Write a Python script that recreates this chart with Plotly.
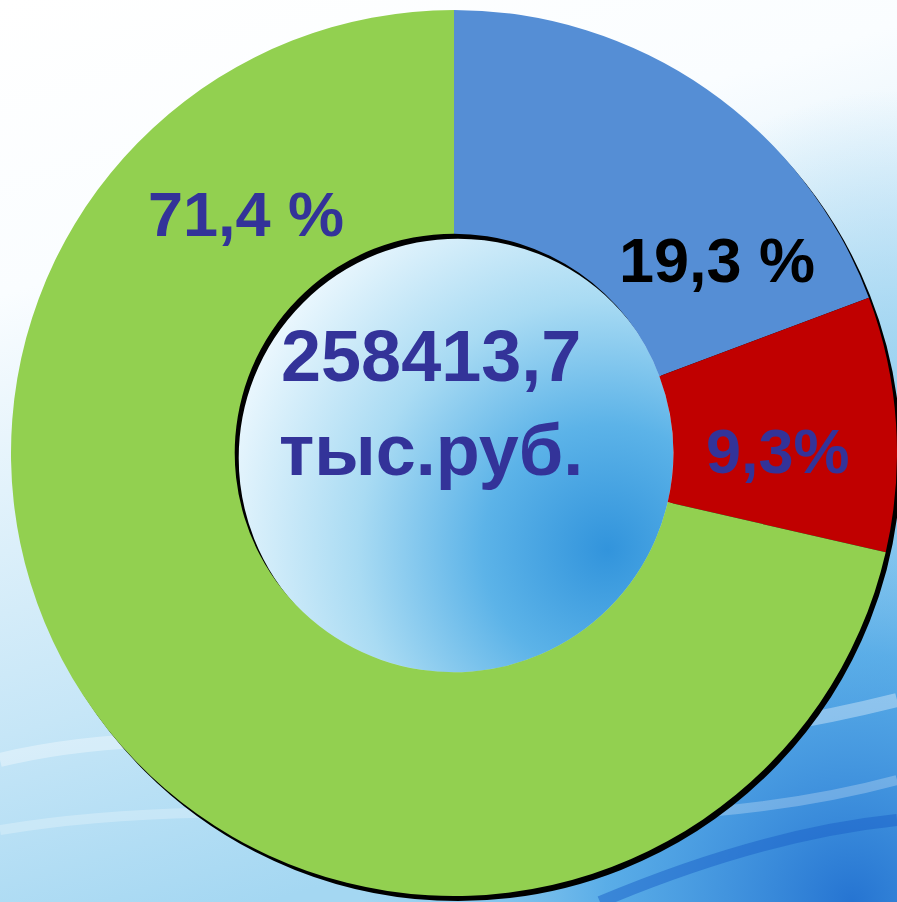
import base64

import plotly.graph_objects as go

# ── Data ──────────────────────────────────────────────────────────────────────
SEGMENTS = ["Сегмент 1", "Сегмент 2", "Сегмент 3"]
SHARES = [19.3, 9.3, 71.4]
SHARE_LABELS = ["19,3 %", "9,3%", "71,4 %"]
TOTAL_TEXT = "258413,7<br>тыс.руб."

COLORS = ["#558ED5", "#C00000", "#92D050"]
LABEL_COLORS = ["#000000", "#333399", "#333399"]
FONT = "Arial, 'Liberation Sans', sans-serif"

W, H = 897, 902

# ── Donut geometry (pixels) ───────────────────────────────────────────────────
HOLE = 0.495
LEFT, RIGHT = 11, 897
BOTTOM, TOP = 10, 896          # measured from the top of the figure
CX, CY = (LEFT + RIGHT) / 2, (BOTTOM + TOP) / 2
R_OUT = (TOP - BOTTOM) / 2
R_IN = R_OUT * HOLE
SH_DX, SH_DY = 4, 5            # drop shadow offset

# ── Background: sky gradient, hole gradient, ring shadow ──────────────────────
BG_SVG = f"""<svg xmlns='http://www.w3.org/2000/svg' width='{W}' height='{H}' viewBox='0 0 {W} {H}'>
<defs>
<linearGradient id='g' x1='0' y1='0' x2='0.3' y2='1'>
<stop offset='0' stop-color='#ffffff'/>
<stop offset='0.3' stop-color='#fafdff'/>
<stop offset='0.5' stop-color='#e2f2fb'/>
<stop offset='0.75' stop-color='#c6e6f7'/>
<stop offset='1' stop-color='#a4d7f2'/>
</linearGradient>
<radialGradient id='r' cx='1' cy='0.45' r='0.35'>
<stop offset='0' stop-color='#8fcdef' stop-opacity='0.9'/>
<stop offset='1' stop-color='#8fcdef' stop-opacity='0'/>
</radialGradient>
<radialGradient id='b' cx='0.95' cy='1' r='0.55'>
<stop offset='0' stop-color='#1f6fd0' stop-opacity='0.95'/>
<stop offset='0.5' stop-color='#3a9be3' stop-opacity='0.7'/>
<stop offset='1' stop-color='#6cbbec' stop-opacity='0'/>
</radialGradient>
<radialGradient id='h' cx='0.85' cy='0.72' r='0.95' fx='0.85' fy='0.72'>
<stop offset='0' stop-color='#3294dc'/>
<stop offset='0.3' stop-color='#5cb3e8'/>
<stop offset='0.6' stop-color='#a9dbf3'/>
<stop offset='1' stop-color='#f4fbff'/>
</radialGradient>
</defs>
<rect width='{W}' height='{H}' fill='url(#g)'/>
<rect width='{W}' height='{H}' fill='url(#r)'/>
<rect width='{W}' height='{H}' fill='url(#b)'/>
<path d='M0 760 C250 700 500 800 897 700' stroke='#ffffff' stroke-opacity='0.35' stroke-width='14' fill='none'/>
<path d='M0 830 C300 780 600 860 897 780' stroke='#ffffff' stroke-opacity='0.25' stroke-width='10' fill='none'/>
<path d='M600 902 C700 860 800 830 897 820' stroke='#1a5fc8' stroke-opacity='0.5' stroke-width='12' fill='none'/>
<circle cx='{CX}' cy='{CY}' r='{R_IN}' fill='url(#h)'/>
<circle cx='{CX + SH_DX}' cy='{CY + SH_DY}' r='{(R_OUT + R_IN) / 2}' fill='none'
 stroke='#000000' stroke-width='{R_OUT - R_IN}'/>
</svg>"""


def svg_uri(svg: str) -> str:
    return "data:image/svg+xml;base64," + base64.b64encode(svg.encode("utf-8")).decode()


fig = go.Figure()

fig.add_trace(go.Pie(
    labels=SEGMENTS,
    values=SHARES,
    hole=HOLE,
    sort=False,
    direction="clockwise",
    marker=dict(colors=COLORS, line=dict(width=0)),
    textinfo="none",
    hovertemplate="%{label}: %{value}%<extra></extra>",
    showlegend=False,
    domain=dict(x=[LEFT / W, RIGHT / W], y=[1 - TOP / H, 1 - BOTTOM / H]),
))

# ── Labels ────────────────────────────────────────────────────────────────────
label_pos = [(717, 260), (778, 451), (246, 214)]
for text, color, (px, py) in zip(SHARE_LABELS, LABEL_COLORS, label_pos):
    fig.add_annotation(
        text=f"<b>{text}</b>",
        x=px / W, y=1 - py / H,
        xref="paper", yref="paper",
        xanchor="center", yanchor="middle",
        showarrow=False,
        font=dict(family=FONT, size=63, color=color),
    )

fig.add_annotation(
    text=f"<b>{TOTAL_TEXT}</b>",
    x=431 / W, y=1 - 403 / H,
    xref="paper", yref="paper",
    xanchor="center", yanchor="middle",
    showarrow=False,
    font=dict(family=FONT, size=72, color="#333399"),
    align="center",
)

fig.update_layout(
    width=W,
    height=H,
    margin=dict(l=0, r=0, t=0, b=0),
    paper_bgcolor="#ffffff",
    plot_bgcolor="rgba(0,0,0,0)",
    images=[
        dict(source=svg_uri(BG_SVG), xref="paper", yref="paper", x=0, y=1,
             sizex=1, sizey=1, sizing="stretch", layer="below"),
    ],
)

fig.write_html(
    "out.html",
    config={"displayModeBar": False},
    post_script="document.body.style.margin='0';",
)
